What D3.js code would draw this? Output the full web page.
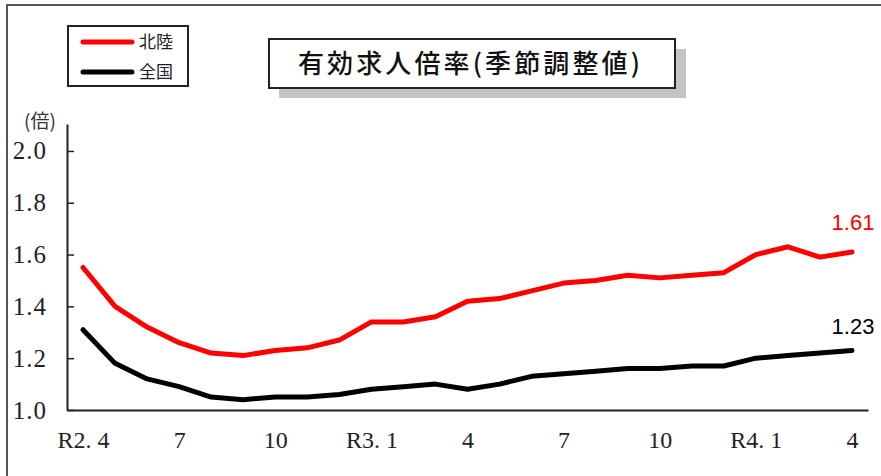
<!DOCTYPE html>
<html>
<head>
<meta charset="utf-8">
<script src="https://cdn.jsdelivr.net/npm/d3@7"></script>
<style>
  html, body { margin: 0; padding: 0; background: #fff; }
  svg { display: block; }
</style>
</head>
<body>
<svg id="chart" width="881" height="476"></svg>
<script>
// Monthly job-openings-to-applicants ratio, seasonally adjusted (R2.4 – R4.4)
const months = ["R2.4","5","6","7","8","9","10","11","12",
                "R3.1","2","3","4","5","6","7","8","9","10","11","12",
                "R4.1","2","3","4"];
const hokuriku = [1.55,1.40,1.32,1.26,1.22,1.21,1.23,1.24,1.27,
                  1.34,1.34,1.36,1.42,1.43,1.46,1.49,1.50,1.52,1.51,1.52,1.53,
                  1.60,1.63,1.59,1.61];
const national = [1.31,1.18,1.12,1.09,1.05,1.04,1.05,1.05,1.06,
                  1.08,1.09,1.10,1.08,1.10,1.13,1.14,1.15,1.16,1.16,1.17,1.17,
                  1.20,1.21,1.22,1.23];
const xTickIdx = [0,3,6,9,12,15,18,21,24];
const xTickLabels = ["R2. 4","7","10","R3. 1","4","7","10","R4. 1","4"];
const yTicks = [1.0,1.2,1.4,1.6,1.8,2.0];
const seriesNames = ["北陸","全国"];
const seriesColors = ["#ff0000","#000000"];
const titleText = "有効求人倍率(季節調整値)";
const unitText = "(倍)";

const svg = d3.select("#chart");
const serif = "'Liberation Serif','DejaVu Serif',serif";
const cjk = "'Noto Sans CJK JP','Noto Sans CJK SC',sans-serif";
const sans = "'Liberation Sans',Arial,sans-serif";

// outer frame
svg.append("rect")
  .attr("x", 7).attr("y", 5).attr("width", 900).attr("height", 500)
  .attr("fill", "none").attr("stroke", "#555").attr("stroke-width", 2);

// scales
const x = d3.scalePoint().domain(d3.range(months.length)).range([67, 868]).padding(0.5);
const y = d3.scaleLinear().domain([1, 2.104]).range([410, 124]);

// y axis (ticks pointing inward, labels left)
const yAxis = svg.append("g")
  .attr("transform", "translate(67,0)")
  .call(d3.axisLeft(y).tickValues(yTicks).tickFormat(d3.format(".1f"))
        .tickSizeInner(-7).tickSizeOuter(0).tickPadding(20));
yAxis.select(".domain").attr("stroke", "#222").attr("stroke-width", 2);
yAxis.selectAll(".tick line").attr("stroke", "#222").attr("stroke-width", 1.5);
yAxis.selectAll(".tick text")
  .attr("font-family", serif).attr("font-size", 25).attr("fill", "#222")
  .attr("letter-spacing", 1);

// x axis
const xAxis = svg.append("g")
  .attr("transform", `translate(0,${y(1)})`)
  .call(d3.axisBottom(x).tickValues(xTickIdx)
        .tickFormat((d, i) => xTickLabels[i])
        .tickSizeInner(0).tickSizeOuter(0).tickPadding(21));
xAxis.select(".domain").attr("stroke", "#222").attr("stroke-width", 2);
xAxis.selectAll(".tick text")
  .attr("font-family", serif).attr("font-size", 24).attr("fill", "#222")
  .style("white-space", "pre");

// unit label
svg.append("text")
  .attr("x", 40).attr("y", 128).attr("text-anchor", "middle")
  .attr("font-family", cjk).attr("font-size", 19).attr("fill", "#333")
  .text(unitText);

// lines
const line = d3.line().x((d, i) => x(i)).y(d => y(d));
[hokuriku, national].forEach((vals, k) => {
  svg.append("path")
    .datum(vals)
    .attr("fill", "none")
    .attr("stroke", seriesColors[k])
    .attr("stroke-width", 5)
    .attr("stroke-linejoin", "round")
    .attr("stroke-linecap", "round")
    .attr("d", line);
});

// end value labels
const last = months.length - 1;
svg.append("text")
  .attr("x", x(last) + 1).attr("y", y(hokuriku[last]) - 22)
  .attr("font-family", sans).attr("font-size", 22).attr("fill", "#ff0000")
  .attr("text-anchor", "middle")
  .text(hokuriku[last].toFixed(2));
svg.append("text")
  .attr("x", x(last) + 1).attr("y", y(national[last]) - 16)
  .attr("font-family", sans).attr("font-size", 22).attr("fill", "#000")
  .attr("text-anchor", "middle")
  .text(national[last].toFixed(2));

// legend
const lg = svg.append("g");
lg.append("rect")
  .attr("x", 68).attr("y", 26).attr("width", 120).attr("height", 60)
  .attr("fill", "#fff").attr("stroke", "#222").attr("stroke-width", 2);
seriesNames.forEach((name, k) => {
  const ly = 42 + k * 30;
  lg.append("line")
    .attr("x1", 83).attr("x2", 132).attr("y1", ly).attr("y2", ly)
    .attr("stroke", seriesColors[k]).attr("stroke-width", 5)
    .attr("stroke-linecap", "round");
  lg.append("text")
    .attr("x", 139).attr("y", ly + 6)
    .attr("font-family", cjk).attr("font-size", 17).attr("fill", "#222")
    .text(name);
});

// title box with drop shadow
const tg = svg.append("g");
tg.append("rect")
  .attr("x", 279).attr("y", 49).attr("width", 407).attr("height", 49)
  .attr("fill", "#c4c4c4");
tg.append("rect")
  .attr("x", 269).attr("y", 39).attr("width", 406).attr("height", 49)
  .attr("fill", "#fff").attr("stroke", "#222").attr("stroke-width", 2);
tg.append("text")
  .attr("x", 298).attr("y", 73)
  .attr("font-family", cjk).attr("font-size", 26).attr("font-weight", 500)
  .attr("fill", "#111")
  .attr("textLength", 342).attr("lengthAdjust", "spacing")
  .text(titleText);
</script>
</body>
</html>
